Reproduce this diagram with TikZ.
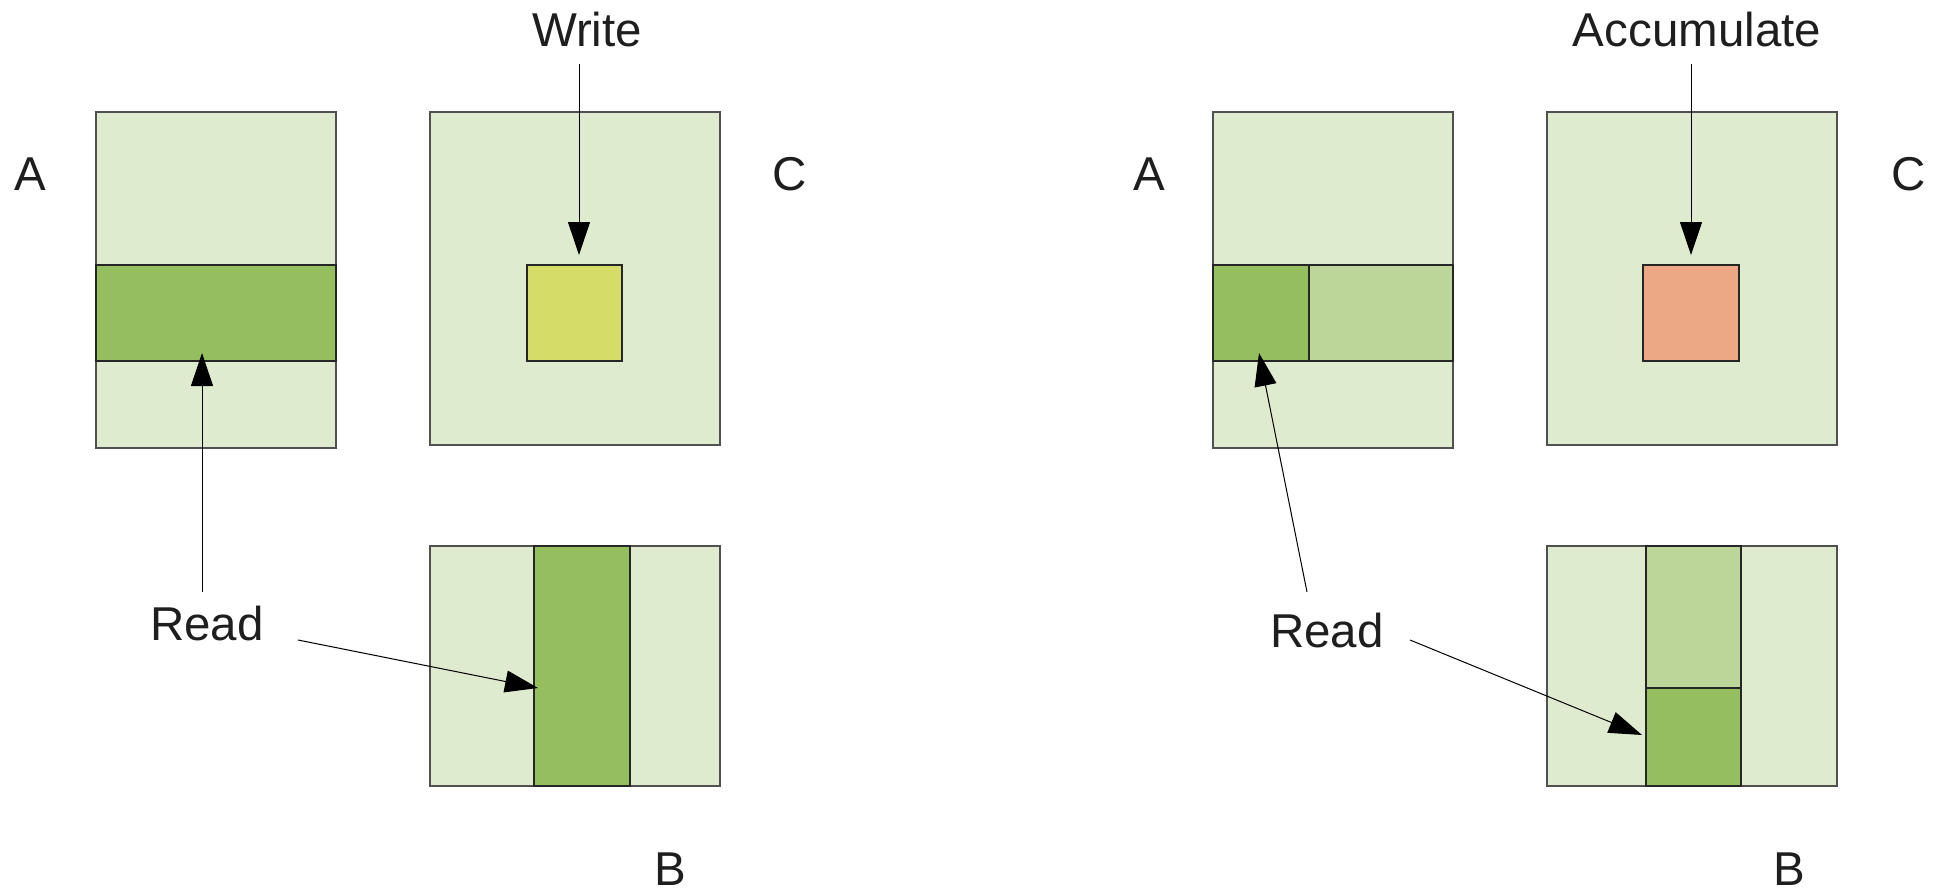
\documentclass[tikz,border=0pt]{standalone}
\usepackage{fontspec}
\setmainfont{Liberation Sans}
\usetikzlibrary{arrows.meta}
\definecolor{lg}{HTML}{DFEBCF}
\definecolor{dg}{HTML}{95BE5F}
\definecolor{mg}{HTML}{BCD69A}
\definecolor{yl}{HTML}{D5DC68}
\definecolor{org}{HTML}{ECA884}
\definecolor{edge}{HTML}{505050}
\definecolor{txt}{HTML}{1E1E1E}
\begin{document}
\begin{tikzpicture}[x=1pt,y=-1pt,
  box/.style={draw=edge,line width=1.4pt,inner sep=0pt,outer sep=0pt,rectangle,anchor=north west},
  inner/.style={box,draw=black!85},
  lbl/.style={font=\fontsize{47.5}{57}\selectfont,inner sep=0pt,text=txt,anchor=base},
  arr/.style={line width=1pt,-{Triangle[length=33pt,width=22pt]}}]
\useasboundingbox (0,0) rectangle (1941,891);
% ---------------- left panel ----------------
\node[box,fill=lg,minimum width=240pt,minimum height=336pt] (A1) at (96,112) {};
\node[inner,fill=dg,minimum width=240pt,minimum height=96pt] (A1band) at (96,265) {};
\node[box,fill=lg,minimum width=290pt,minimum height=333pt] (C1) at (430,112) {};
\node[inner,fill=yl,minimum width=95pt,minimum height=96pt] (Y1) at (527,265) {};
\node[box,fill=lg,minimum width=290pt,minimum height=240pt] (B1) at (430,546) {};
\node[inner,fill=dg,minimum width=96pt,minimum height=240pt] (B1col) at (534,546) {};
\node[lbl] (la1) at (30,190) {A};
\node[lbl] (lc1) at (790,190) {C};
\node[lbl] (lb1) at (670,885) {B};
\node[lbl] (write) at (587,47) {Write};
\node[lbl] (read1) at (207,640) {Read};
\coordinate (w1s) at (579,64);
\draw[arr,shorten >=10pt] (w1s) -- (Y1.north -| w1s);
\coordinate (r1s) at (202,592);
\coordinate (r1t) at (202,353);
\draw[arr] (r1s) -- (r1t);
\coordinate (r2s) at (298,640);
\coordinate (r2t) at (538,688);
\draw[arr] (r2s) -- (r2t);
% ---------------- right panel ----------------
\node[box,fill=lg,minimum width=240pt,minimum height=336pt] (A2) at (1213,112) {};
\node[inner,fill=dg,minimum width=96pt,minimum height=96pt] (A2a) at (1213,265) {};
\node[inner,fill=mg,minimum width=144pt,minimum height=96pt] (A2b) at (1309,265) {};
\node[box,fill=lg,minimum width=290pt,minimum height=333pt] (C2) at (1547,112) {};
\node[inner,fill=org,minimum width=96pt,minimum height=96pt] (O2) at (1643,265) {};
\node[box,fill=lg,minimum width=290pt,minimum height=240pt] (B2) at (1547,546) {};
\node[inner,fill=mg,minimum width=95pt,minimum height=142pt] (B2a) at (1646,546) {};
\node[inner,fill=dg,minimum width=95pt,minimum height=98pt] (B2b) at (1646,688) {};
\node[lbl] (la2) at (1149,190) {A};
\node[lbl] (lc2) at (1909,190) {C};
\node[lbl] (lb2) at (1789,885) {B};
\node[lbl] (accum) at (1697,47) {Accumulate};
\node[lbl] (read2) at (1327,647) {Read};
\coordinate (w2s) at (1691,64);
\draw[arr,shorten >=10pt] (w2s) -- (O2.north -| w2s);
\coordinate (r3s) at (1307,592);
\coordinate (r3t) at (1259,353);
\draw[arr] (r3s) -- (r3t);
\coordinate (r4s) at (1410,640);
\coordinate (r4t) at (1642,735);
\draw[arr] (r4s) -- (r4t);
\end{tikzpicture}
\end{document}
